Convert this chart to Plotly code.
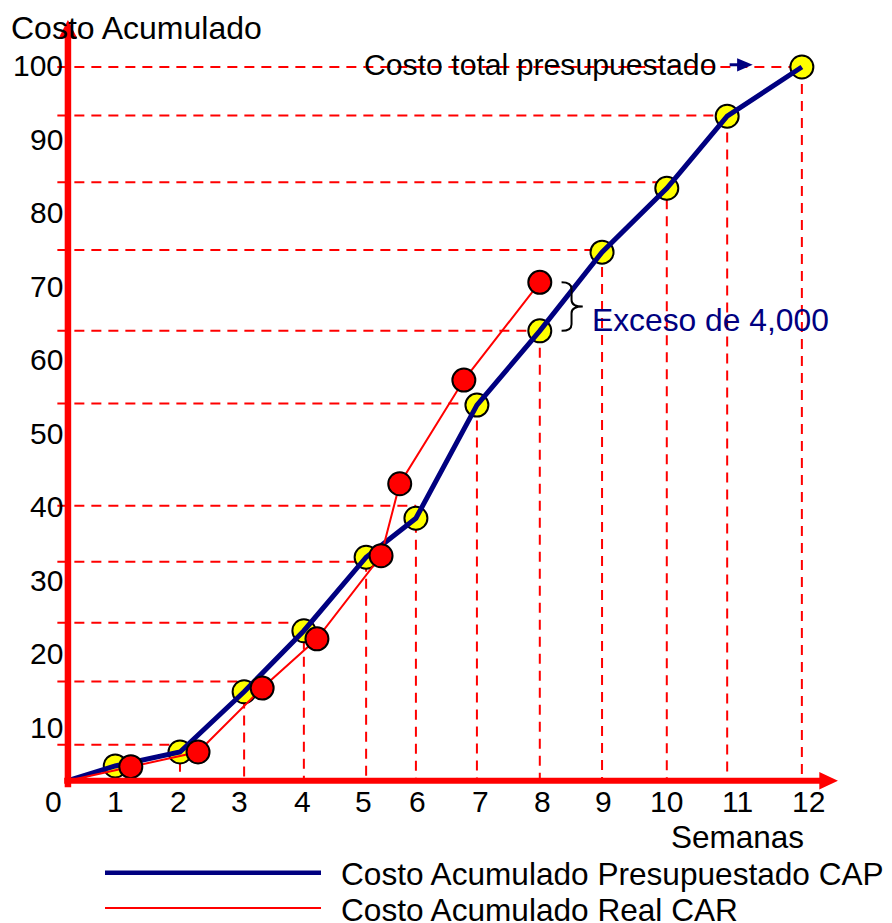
import plotly.graph_objects as go

# ---------------- data ----------------
semanas_etiquetas = ["0", "1", "2", "3", "4", "5", "6", "7", "8", "9", "10", "11", "12"]
semanas_etiqueta_x = [0, 1.0, 2.01, 2.99, 4.0, 4.98, 5.86, 6.86, 7.86, 8.84, 9.85, 10.99, 12.14]
costo_ticks = [10, 20, 30, 40, 50, 60, 70, 80, 90, 100]

# Costo Acumulado Presupuestado (CAP) - yellow points
cap_x = [1.0, 2.04, 3.07, 4.03, 5.03, 5.83, 6.81, 7.82, 8.82, 9.86, 10.83, 12.03]
cap_y = [4.7, 6.6, 14.8, 23.1, 33.1, 38.4, 53.8, 63.9, 74.6, 83.3, 93.1, 99.8]
# level of the dashed reference line drawn for each budget point (week 1 has none)
guia_y = [None, 7.6, 16.2, 24.2, 32.5, 40.1, 54.0, 63.9, 74.9, 84.1, 93.2, 99.8]

# Costo Acumulado Real (CAR) - red points
car_x = [1.25, 2.33, 3.36, 4.24, 5.27, 5.57, 6.60, 7.82]
car_y = [4.6, 6.6, 15.3, 22.0, 33.3, 43.1, 57.2, 70.5]

origen_x, origen_y = 0.24, 2.69   # where the drawn axes cross

NAVY = "#000080"
RED = "#FF0000"
YELLOW = "#FFFF00"
FONT = "Liberation Sans, Arial, sans-serif"

# page offset of the plot div (browser default body margin)
OFF = 8
W, H = 892, 923
XS, YS = 62.25, 7.35          # px per unit
X0PX, Y0PX = 53 - OFF, 800.5 - OFF
xr = [-X0PX / XS, (W - X0PX) / XS]
yr = [(Y0PX - H) / YS, Y0PX / YS]


def px_paper(px, py):
    return (px - OFF) / W, 1 - (py - OFF) / H


fig = go.Figure()

fig.add_trace(go.Scatter(x=cap_x, y=cap_y, mode="markers",
                         marker=dict(size=23, color=YELLOW, line=dict(color="black", width=2)),
                         showlegend=False, hoverinfo="skip"))
fig.add_trace(go.Scatter(x=[origen_x] + cap_x, y=[origen_y] + cap_y, mode="lines",
                         line=dict(color=NAVY, width=5), showlegend=False, hoverinfo="skip"))
fig.add_trace(go.Scatter(x=[origen_x] + car_x, y=[origen_y] + car_y, mode="lines",
                         line=dict(color=RED, width=2), showlegend=False, hoverinfo="skip"))
fig.add_trace(go.Scatter(x=car_x, y=car_y, mode="markers",
                         marker=dict(size=23, color=RED, line=dict(color="black", width=2)),
                         showlegend=False, hoverinfo="skip"))

shapes = []
guide = dict(color=RED, width=2, dash="10px,7px")
for gx, gy in zip(cap_x, guia_y):
    if gy is None:
        continue
    shapes.append(dict(type="line", xref="x", yref="y", x0=0.07, x1=gx, y0=gy, y1=gy,
                       line=guide, layer="below"))
    shapes.append(dict(type="line", xref="x", yref="y", x0=gx, x1=gx, y0=gy, y1=origen_y,
                       line=guide, layer="below"))

# axes (thick red arrows)
x_end, y_end = 12.61, 106.2
shapes.append(dict(type="line", xref="x", yref="y", x0=origen_x, x1=origen_x, y0=1.8, y1=y_end - 2.4,
                   line=dict(color=RED, width=6.5), layer="above"))
shapes.append(dict(type="path", xref="x", yref="y",
                   path=f"M {origen_x-0.15},{y_end-2.5} L {origen_x+0.15},{y_end-2.5} L {origen_x},{y_end} Z",
                   fillcolor=RED, line=dict(width=0), layer="above"))
shapes.append(dict(type="line", xref="x", yref="y", x0=0.18, x1=x_end - 0.28, y0=origen_y, y1=origen_y,
                   line=dict(color=RED, width=6), layer="above"))
shapes.append(dict(type="path", xref="x", yref="y",
                   path=f"M {x_end-0.3},{origen_y-1.2} L {x_end-0.3},{origen_y+1.2} L {x_end},{origen_y} Z",
                   fillcolor=RED, line=dict(width=0), layer="above"))

# small navy arrow towards the total budget point
ay = cap_y[-1] + 0.3
tip = cap_x[-1] - 0.79
shapes.append(dict(type="line", xref="x", yref="y", x0=tip - 0.37, x1=tip - 0.2, y0=ay, y1=ay,
                   line=dict(color=NAVY, width=3)))
shapes.append(dict(type="path", xref="x", yref="y",
                   path=f"M {tip-0.25},{ay-0.9} L {tip-0.25},{ay+0.9} L {tip},{ay} Z",
                   fillcolor=NAVY, line=dict(width=0)))

# curly brace between real and budget at week 8
bx = cap_x[7]
top, bot = car_y[7], cap_y[7]
mid = (top + bot) / 2
x0, x1, x2 = bx + 0.35, bx + 0.51, bx + 0.69
d = 0.9
brace = (f"M {x0},{top} Q {x1},{top} {x1},{top-d} L {x1},{mid+d} "
         f"Q {x1},{mid} {x2},{mid} Q {x1},{mid} {x1},{mid-d} "
         f"L {x1},{bot+d} Q {x1},{bot} {x0},{bot}")
shapes.append(dict(type="path", xref="x", yref="y", path=brace,
                   line=dict(color="black", width=2)))

# legend lines
lx0, ly0 = px_paper(105, 872.7)
lx1, ly1 = px_paper(321, 908)
shapes.append(dict(type="line", xref="paper", yref="paper", x0=lx0, x1=lx1, y0=ly0, y1=ly0,
                   line=dict(color=NAVY, width=4.5)))
shapes.append(dict(type="line", xref="paper", yref="paper", x0=lx0, x1=lx1, y0=ly1, y1=ly1,
                   line=dict(color=RED, width=2)))

annotations = []
for lab, lx in zip(semanas_etiquetas, semanas_etiqueta_x):
    annotations.append(dict(x=lx, y=-0.2, xref="x", yref="y", text=lab, showarrow=False,
                            xanchor="center", yanchor="middle", font=dict(size=30, color="black", family=FONT)))
for v in costo_ticks:
    annotations.append(dict(x=0.2, y=v, xref="x", yref="y", text=str(v), showarrow=False,
                            xanchor="right", yanchor="middle", font=dict(size=30, color="black", family=FONT)))

tx, ty1 = px_paper(339, 874)
_, ty2 = px_paper(339, 910)
titx, tity = px_paper(9, 28)
annotations += [
    dict(x=titx, y=tity, xref="paper", yref="paper", text="Costo Acumulado", showarrow=False,
         xanchor="left", yanchor="middle", font=dict(size=32, color="black", family=FONT)),
    dict(x=10.99, y=-4.97, xref="x", yref="y", text="Semanas", showarrow=False,
         xanchor="center", yanchor="middle", font=dict(size=31.5, color="black", family=FONT)),
    dict(x=tip - 0.56, y=ay, xref="x", yref="y", text="Costo total presupuestado", showarrow=False,
         xanchor="right", yanchor="middle", font=dict(size=30.2, color="black", family=FONT)),
    dict(x=bx + 0.8, y=mid - 1.8, xref="x", yref="y", text="Exceso de 4,000", showarrow=False,
         xanchor="left", yanchor="middle", font=dict(size=31.8, color=NAVY, family=FONT)),
    dict(x=tx, y=ty1, xref="paper", yref="paper", text="Costo Acumulado Presupuestado CAP",
         showarrow=False, xanchor="left", yanchor="middle", font=dict(size=31.6, color="black", family=FONT)),
    dict(x=tx, y=ty2, xref="paper", yref="paper", text="Costo Acumulado Real CAR",
         showarrow=False, xanchor="left", yanchor="middle", font=dict(size=31.6, color="black", family=FONT)),
]

fig.update_layout(
    width=W, height=H, autosize=False,
    margin=dict(l=0, r=0, t=0, b=0, pad=0),
    paper_bgcolor="white", plot_bgcolor="white",
    xaxis=dict(range=xr, visible=False, fixedrange=True),
    yaxis=dict(range=yr, visible=False, fixedrange=True),
    shapes=shapes, annotations=annotations, showlegend=False,
)

fig.write_html("out.html")
